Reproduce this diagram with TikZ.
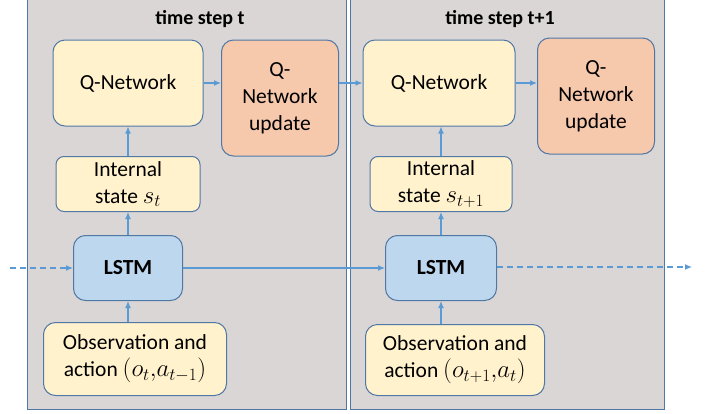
\documentclass[tikz,border=0pt]{standalone}
\usepackage{fontspec}
\setmainfont{Carlito}
\usetikzlibrary{arrows.meta}
\definecolor{panelfill}{RGB}{218,214,214}
\definecolor{edgeblue}{RGB}{80,120,165}
\definecolor{arrowblue}{RGB}{91,155,213}
\definecolor{boxyellow}{RGB}{255,242,204}
\definecolor{boxorange}{RGB}{246,200,172}
\definecolor{boxblue}{RGB}{189,215,238}
\newcommand{\bigmath}[1]{{\fontsize{24}{27}\selectfont$#1$}}
\tikzset{
  panel/.style={draw=edgeblue, fill=panelfill, line width=1pt},
  block/.style={draw=edgeblue, line width=1pt, rounded corners=12pt, align=center,
    inner sep=0pt, font=\fontsize{21.5}{27}\selectfont},
  yblock/.style={block, fill=boxyellow},
  oblock/.style={block, fill=boxorange},
  bblock/.style={block, fill=boxblue, font=\fontsize{21.5}{27}\selectfont\bfseries},
  link/.style={draw=arrowblue, line width=1.2pt, -{Latex[length=7pt,width=6pt]}},
  dlink/.style={link, dash pattern=on 6pt off 4pt},
  title/.style={font=\fontsize{20}{24}\selectfont\bfseries}
}
\begin{document}
\begin{tikzpicture}[x=1pt, y=-1pt]
  \useasboundingbox (0,0) rectangle (705,413);
  % the two time steps
  \draw[panel] (27,-1) rectangle (346,409);
  \draw[panel] (350,-1) rectangle (664,409);
  \node[title] (tt1) at (200,19) {time step t};
  \node[title] (tt2) at (500,19) {time step t+1};
  % step t
  \node[yblock, minimum width=150pt, minimum height=86pt] (qnet1) at (128,83) {Q-Network};
  \node[oblock, minimum width=117pt, minimum height=116pt] (upd1) at (280,98) {Q-\\Network\\update};
  \node[yblock, minimum width=144pt, minimum height=55pt, rounded corners=8pt] (int1) at (128,184) {Internal\\state \bigmath{s_t}};
  \node[bblock, minimum width=109pt, minimum height=65pt] (lstm1) at (128,268) {LSTM};
  \node[yblock, minimum width=183pt, minimum height=73pt] (obs1) at (135,359) {Observation and\\action \bigmath{(o_t{,}a_{t-1})}};
  % step t+1
  \node[yblock, minimum width=152pt, minimum height=86pt] (qnet2) at (439,83) {Q-Network};
  \node[oblock, minimum width=117pt, minimum height=116pt] (upd2) at (596,96) {Q-\\Network\\update};
  \node[yblock, minimum width=142pt, minimum height=55pt, rounded corners=8pt] (int2) at (441,184) {Internal\\state \bigmath{s_{t+1}}};
  \node[bblock, minimum width=111pt, minimum height=65pt] (lstm2) at (441,268) {LSTM};
  \node[yblock, minimum width=179pt, minimum height=71pt] (obs2) at (455,360) {Observation and\\action \bigmath{(o_{t+1}{,}a_t)}};
  \coordinate (in) at (10,268);
  \coordinate (out) at (692,267);
  % connectors
  \draw[dlink] (in) -- (lstm1);
  \draw[link] (obs1.north -| lstm1) -- (lstm1);
  \draw[link] (lstm1) -- (int1);
  \draw[link] (int1) -- (qnet1);
  \draw[link] (qnet1) -- (qnet1 -| upd1.west);
  \draw[link] (upd1.east |- qnet1) -- (qnet2);
  \draw[link] (lstm1) -- (lstm2);
  \draw[link] (obs2.north -| lstm2) -- (lstm2);
  \draw[link] (lstm2) -- (int2);
  \draw[link] (int2) -- (int2 |- qnet2.south);
  \draw[link] (qnet2) -- (qnet2 -| upd2.west);
  \draw[dlink] (lstm2.east |- out) -- (out);
\end{tikzpicture}
\end{document}
